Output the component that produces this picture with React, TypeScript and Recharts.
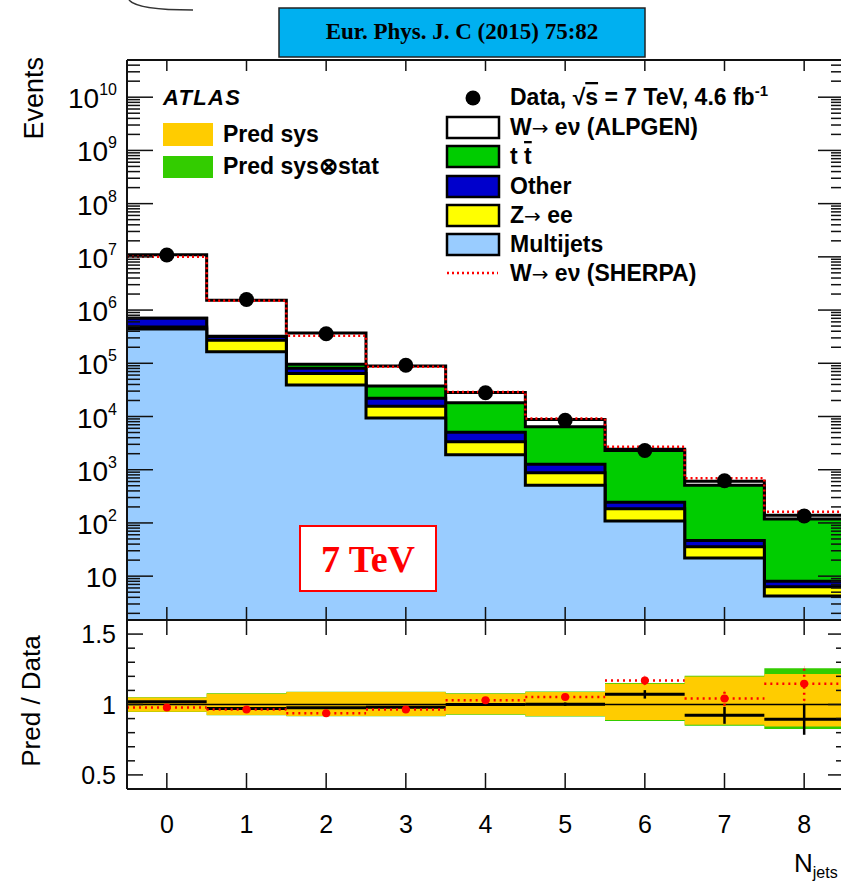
import { Area, ComposedChart, ErrorBar, Line, ReferenceLine, Scatter, XAxis, YAxis } from 'recharts';

const SANS = '"Liberation Sans", Arial, Helvetica, sans-serif';
const SERIF = '"Liberation Serif", "Times New Roman", serif';
const FRAME = '#111';

// jet multiplicity bins
const nJets = [0, 1, 2, 3, 4, 5, 6, 7, 8];
const jetLabels = ['0', '1', '2', '3', '4', '5', '6', '7', '8'];
const binEdges = [-0.5, 0.5, 1.5, 2.5, 3.5, 4.5, 5.5, 6.5, 7.5, 8.5];

// main panel (events)
const dataEvents = [1.08e7, 1.58e6, 3.6e5, 9.2e4, 2.8e4, 8.5e3, 2.3e3, 620, 135];
const multijets = [440000, 164000, 39000, 9400, 1910, 513, 109, 22, 4.25];
const zee = [40000, 106000, 25000, 6200, 1450, 366, 76, 13.5, 2.05];
const other = [220000, 50000, 17000, 6400, 1710, 391, 60, 11.5, 1.7];
const ttbar = [5000, 2000, 15000, 15600, 13130, 5130, 2055, 466, 110];
const wAlpgen = [10295000, 1208000, 274000, 51400, 10100, 2400, 130, 95, 22];
const sherpaTotal = [1.0e7, 1.5e6, 3.3e5, 8.6e4, 2.9e4, 9.2e3, 2.7e3, 690, 162];

// ratio panel (pred / data)
const alpgenRatio = [1.019, 0.972, 0.977, 0.981, 1.0, 1.002, 1.072, 0.923, 0.895];
const alpgenRatioErr = [0.004, 0.004, 0.005, 0.006, 0.008, 0.012, 0.03, 0.06, 0.11];
const sherpaRatio = [0.979, 0.965, 0.937, 0.965, 1.03, 1.053, 1.17, 1.042, 1.147];
const sherpaRatioErr = [0.004, 0.005, 0.006, 0.008, 0.01, 0.015, 0.03, 0.05, 0.12];
const predSysLow = [0.949, 0.926, 0.919, 0.919, 0.93, 0.919, 0.89, 0.856, 0.844];
const predSysHigh = [1.049, 1.077, 1.088, 1.088, 1.077, 1.088, 1.147, 1.198, 1.216];
const predTotLow = [0.946, 0.923, 0.916, 0.916, 0.927, 0.915, 0.883, 0.849, 0.826];
const predTotHigh = [1.052, 1.08, 1.091, 1.091, 1.08, 1.092, 1.152, 1.204, 1.258];

// axis ticks
const logDecades = [0, 1, 2, 3, 4, 5, 6, 7, 8, 9, 10];
const logSteps = [1, 2, 3, 4, 5, 6, 7, 8, 9];
const ratioTicks = [0.5, 0.6, 0.7, 0.8, 0.9, 1, 1.1, 1.2, 1.3, 1.4, 1.5];
const ratioLabels: Record<string, string> = { '0.5': '0.5', '1': '1', '1.5': '1.5' };

const Y_MIN = 1.5;
const Y_MAX = 5e10;
const X_DOMAIN: [number, number] = [-0.5, 8.5];

const mainYTicks = logDecades
	.flatMap((d) => logSteps.map((m) => m * Math.pow(10, d)))
	.filter((v) => v >= Y_MIN && v <= Y_MAX);

const isMajor = (v: number) => {
	const lg = Math.log10(v);
	return Math.abs(lg - Math.round(lg)) < 1e-9;
};

const stepRows = binEdges.map((x, i) => {
	const b = Math.min(i, nJets.length - 1);
	const mj = multijets[b];
	const z = mj + zee[b];
	const oth = z + other[b];
	const tt = oth + ttbar[b];
	return {
		x,
		mj,
		z,
		oth,
		tt,
		total: tt + wAlpgen[b],
		sherpa: sherpaTotal[b],
		sysBand: [predSysLow[b], predSysHigh[b]],
		totBand: [predTotLow[b], predTotHigh[b]],
	};
});

const dataPoints = nJets.map((x, i) => ({ x, y: dataEvents[i] }));
const alpgenPoints = nJets.map((x, i) => ({ x, y: alpgenRatio[i], ex: 0.5, ey: alpgenRatioErr[i] }));
const sherpaPoints = nJets.map((x, i) => ({ x, y: sherpaRatio[i], ex: 0.5, ey: sherpaRatioErr[i] }));

const LeftLogTick = (props: any) => {
	const { x, y, payload } = props;
	const v = payload.value;
	const major = isMajor(v);
	const exp = Math.round(Math.log10(v));
	return (
		<g>
			<line x1={x} x2={x + (major ? 26 : 13)} y1={y} y2={y} stroke={FRAME} strokeWidth={1.5} />
			{major && (
				<text x={x - 10} y={y + 11} textAnchor='end' fontSize={28} fontFamily={SANS} fill='#000'>
					10
					{exp > 1 && (
						<tspan dy={-13} fontSize={16}>
							{exp}
						</tspan>
					)}
				</text>
			)}
		</g>
	);
};

const RightLogTick = (props: any) => {
	const { x, y, payload } = props;
	const major = isMajor(payload.value);
	return <line x1={x} x2={x - (major ? 26 : 13)} y1={y} y2={y} stroke={FRAME} strokeWidth={1.5} />;
};

const RatioLeftTick = (props: any) => {
	const { x, y, payload } = props;
	const label = ratioLabels[String(payload.value)];
	return (
		<g>
			<line x1={x} x2={x + (label ? 16 : 8)} y1={y} y2={y} stroke={FRAME} strokeWidth={1.5} />
			{label && (
				<text x={x - 11} y={y + 9} textAnchor='end' fontSize={25} fontFamily={SANS} fill='#000'>
					{label}
				</text>
			)}
		</g>
	);
};

const RatioRightTick = (props: any) => {
	const { x, y, payload } = props;
	const label = ratioLabels[String(payload.value)];
	return <line x1={x} x2={x - (label ? 16 : 8)} y1={y} y2={y} stroke={FRAME} strokeWidth={1.5} />;
};

const xTick = (len: number, withLabel: boolean) => (props: any) => {
	const { x, y, index } = props;
	return (
		<g>
			<line x1={x} x2={x} y1={y} y2={y + len} stroke={FRAME} strokeWidth={1.5} />
			{withLabel && (
				<text x={x} y={y + 44} textAnchor='middle' fontSize={25} fontFamily={SANS} fill='#000'>
					{jetLabels[index]}
				</text>
			)}
		</g>
	);
};

const emptyShape = () => <g />;

const legendFont = { fontSize: 23, fontWeight: 'bold' as const, fontFamily: SANS, fill: '#000' };
const arrow = <tspan fontFamily='"DejaVu Sans", sans-serif' fontWeight='normal' fontSize={20}>{'\u2192'}</tspan>;

const Overlay = () => (
	<svg width={841} height={881} style={{ position: 'absolute', left: 0, top: 0, pointerEvents: 'none' }}>
		<path d='M129,0 C134,6 150,10 193,10' fill='none' stroke='#333' strokeWidth={1.5} />
		<rect x={279} y={8} width={366} height={49} fill='#00b0f0' stroke='#222' strokeWidth={1.5} />
		<text x={462} y={39} textAnchor='middle' fontSize={23} fontWeight='bold' fontFamily={SERIF} fill='#000'>
			Eur. Phys. J. C (2015) 75:82
		</text>

		<text transform='translate(43,57) rotate(-90)' textAnchor='end' fontSize={27} fontFamily={SANS} fill='#000'>
			Events
		</text>
		<text transform='translate(40,701) rotate(-90)' textAnchor='middle' fontSize={26} fontFamily={SANS} fill='#000'>
			Pred / Data
		</text>
		<text x={794} y={872} fontSize={26} fontFamily={SANS} fill='#000'>
			N<tspan dy={6} fontSize={16}>jets</tspan>
		</text>

		<text x={163} y={105} fontSize={22} fontWeight='bold' fontStyle='italic' fontFamily={SANS} fill='#000' textLength={77}>
			ATLAS
		</text>
		<rect x={163} y={123} width={50} height={23} fill='#ffcc00' />
		<text x={223} y={142} {...legendFont}>
			Pred sys
		</text>
		<rect x={163} y={156} width={50} height={22} fill='#33cc00' />
		<text x={223} y={174} {...legendFont}>
			Pred sys{'\u2297'}stat
		</text>

		<circle cx={473} cy={98} r={7.5} fill='#000' />
		<text x={510} y={105} {...legendFont}>
			Data, {'\u221A'}
			<tspan style={{ textDecoration: 'overline' }}>s</tspan> = 7 TeV, 4.6 fb
			<tspan dy={-9} fontSize={15}>
				-1
			</tspan>
		</text>
		<rect x={447} y={117} width={52} height={21} fill='#ffffff' stroke='#000' strokeWidth={2.5} />
		<text x={510} y={135} {...legendFont}>
			W{arrow} e{'\u03BD'} (ALPGEN)
		</text>
		<rect x={447} y={146} width={52} height={21} fill='#00cc00' stroke='#000' strokeWidth={2.5} />
		<text x={510} y={164} {...legendFont}>
			t <tspan style={{ textDecoration: 'overline' }}>t</tspan>
		</text>
		<rect x={447} y={176} width={52} height={21} fill='#0000cc' stroke='#000' strokeWidth={2.5} />
		<text x={510} y={194} {...legendFont}>
			Other
		</text>
		<rect x={447} y={205} width={52} height={21} fill='#ffff00' stroke='#000' strokeWidth={2.5} />
		<text x={510} y={223} {...legendFont}>
			Z{arrow} ee
		</text>
		<rect x={447} y={234} width={52} height={21} fill='#99ccff' stroke='#000' strokeWidth={2.5} />
		<text x={510} y={252} {...legendFont}>
			Multijets
		</text>
		<line x1={447} x2={498} y1={273} y2={273} stroke='#ff0000' strokeWidth={2.5} strokeDasharray='2 3' />
		<text x={510} y={281} {...legendFont}>
			W{arrow} e{'\u03BD'} (SHERPA)
		</text>

		<rect x={300} y={526} width={136} height={65} fill='#ffffff' stroke='#ff0000' strokeWidth={2} />
		<text x={368} y={572} textAnchor='middle' fontSize={38} fontWeight='bold' fontFamily={SERIF} fill='#ff0000'>
			7 TeV
		</text>
	</svg>
);

const axisLine = { stroke: FRAME, strokeWidth: 2 };

export default function App() {
	return (
		<div style={{ position: 'absolute', left: 0, top: 0, width: 841, height: 881, overflow: 'hidden', background: '#fff' }}>
			<div style={{ position: 'absolute', left: 0, top: 0 }}>
				<ComposedChart width={870} height={640} data={stepRows} margin={{ top: 59, right: 25, bottom: 19, left: 126 }}>
					<Area dataKey='total' type='stepAfter' baseValue={Y_MIN} fill='#ffffff' fillOpacity={1} stroke='#000' strokeWidth={3} dot={false} activeDot={false} isAnimationActive={false} />
					<Area dataKey='tt' type='stepAfter' baseValue={Y_MIN} fill='#00cc00' fillOpacity={1} stroke='#000' strokeWidth={3} dot={false} activeDot={false} isAnimationActive={false} />
					<Area dataKey='oth' type='stepAfter' baseValue={Y_MIN} fill='#0000cc' fillOpacity={1} stroke='#000' strokeWidth={3} dot={false} activeDot={false} isAnimationActive={false} />
					<Area dataKey='z' type='stepAfter' baseValue={Y_MIN} fill='#ffff00' fillOpacity={1} stroke='#000' strokeWidth={3} dot={false} activeDot={false} isAnimationActive={false} />
					<Area dataKey='mj' type='stepAfter' baseValue={Y_MIN} fill='#99ccff' fillOpacity={1} stroke='#000' strokeWidth={3} dot={false} activeDot={false} isAnimationActive={false} />
					<Line dataKey='sherpa' type='stepAfter' stroke='#ff0000' strokeWidth={2.5} strokeDasharray='2 3' dot={false} activeDot={false} isAnimationActive={false} />
					<Scatter data={dataPoints} dataKey='y' isAnimationActive={false} shape={(p: any) => <circle cx={p.cx} cy={p.cy} r={7.5} fill='#000' />} />
					<XAxis dataKey='x' type='number' domain={X_DOMAIN} allowDataOverflow ticks={nJets} interval={0} height={1} tickSize={0} tickMargin={0} tickLine={false} axisLine={axisLine} tick={xTick(-13, false)} />
					<XAxis xAxisId='top' orientation='top' dataKey='x' type='number' domain={X_DOMAIN} allowDataOverflow ticks={nJets} interval={0} height={1} tickSize={0} tickMargin={0} tickLine={false} axisLine={axisLine} tick={xTick(11, false)} />
					<YAxis scale='log' type='number' domain={[Y_MIN, Y_MAX]} allowDataOverflow ticks={mainYTicks} interval={0} width={1} tickSize={0} tickMargin={0} tickLine={false} axisLine={axisLine} tick={LeftLogTick} />
					<YAxis yAxisId='r' orientation='right' scale='log' type='number' domain={[Y_MIN, Y_MAX]} allowDataOverflow ticks={mainYTicks} interval={0} width={1} tickSize={0} tickMargin={0} tickLine={false} axisLine={axisLine} tick={RightLogTick} />
				</ComposedChart>
			</div>
			<div style={{ position: 'absolute', left: 0, top: 600 }}>
				<ComposedChart width={870} height={281} data={stepRows} margin={{ top: 19, right: 25, bottom: 91, left: 126 }}>
					<Area dataKey='totBand' type='stepAfter' fill='#33cc00' fillOpacity={1} stroke='none' dot={false} activeDot={false} isAnimationActive={false} />
					<Area dataKey='sysBand' type='stepAfter' fill='#ffcc00' fillOpacity={1} stroke='none' dot={false} activeDot={false} isAnimationActive={false} />
					<ReferenceLine y={1} stroke='#000' strokeWidth={1.5} />
					<Scatter data={alpgenPoints} dataKey='y' isAnimationActive={false} shape={emptyShape}>
						<ErrorBar dataKey='ex' direction='x' width={0} stroke='#000' strokeWidth={3} />
						<ErrorBar dataKey='ey' direction='y' width={0} stroke='#000' strokeWidth={2.5} />
					</Scatter>
					<Scatter data={sherpaPoints} dataKey='y' isAnimationActive={false} shape={(p: any) => <circle cx={p.cx} cy={p.cy} r={4} fill='#ff0000' />}>
						<ErrorBar dataKey='ex' direction='x' width={0} stroke='#ff0000' strokeWidth={2.5} strokeDasharray='2 4' />
						<ErrorBar dataKey='ey' direction='y' width={0} stroke='#ff0000' strokeWidth={2.5} strokeDasharray='2 4' />
					</Scatter>
					<XAxis dataKey='x' type='number' domain={X_DOMAIN} allowDataOverflow ticks={nJets} interval={0} height={1} tickSize={0} tickMargin={0} tickLine={false} axisLine={axisLine} tick={xTick(-16, true)} />
					<XAxis xAxisId='top' orientation='top' dataKey='x' type='number' domain={X_DOMAIN} allowDataOverflow ticks={nJets} interval={0} height={1} tickSize={0} tickMargin={0} tickLine={false} axisLine={axisLine} tick={xTick(15, false)} />
					<YAxis type='number' domain={[0.4, 1.6]} allowDataOverflow ticks={ratioTicks} interval={0} width={1} tickSize={0} tickMargin={0} tickLine={false} axisLine={axisLine} tick={RatioLeftTick} />
					<YAxis yAxisId='r' orientation='right' type='number' domain={[0.4, 1.6]} allowDataOverflow ticks={ratioTicks} interval={0} width={1} tickSize={0} tickMargin={0} tickLine={false} axisLine={axisLine} tick={RatioRightTick} />
				</ComposedChart>
			</div>
			<Overlay />
		</div>
	);
}
